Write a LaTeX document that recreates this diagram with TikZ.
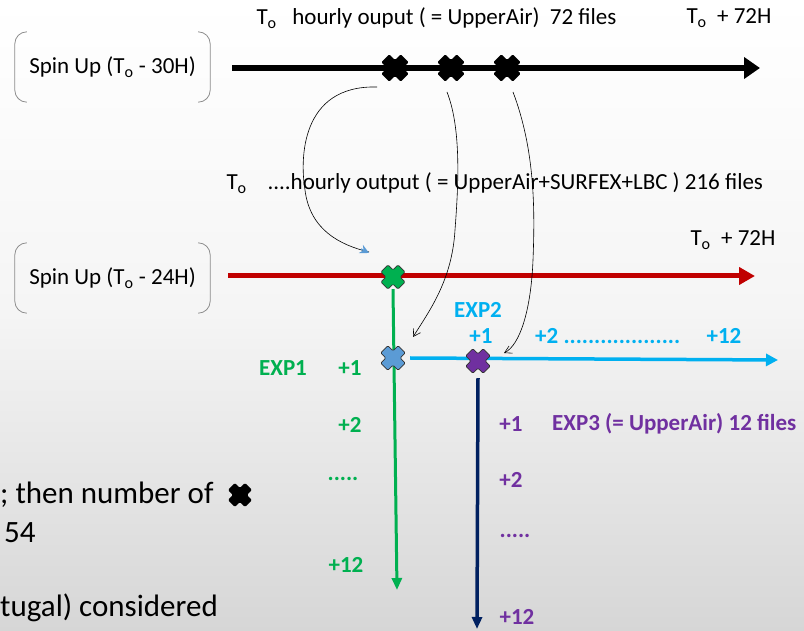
\documentclass[tikz,border=0pt]{standalone}
\usepackage{fontspec}
\setmainfont{Carlito}
\usetikzlibrary{arrows.meta,positioning}

\definecolor{darkred}{HTML}{C00000}
\definecolor{expgreen}{HTML}{00B050}
\definecolor{expblue}{HTML}{00B0F0}
\definecolor{crossblue}{HTML}{5B9BD5}
\definecolor{exppurple}{HTML}{7030A0}
\definecolor{navy}{HTML}{002060}

\begin{document}
\begin{tikzpicture}[x=1pt,y=1pt,node distance=56pt,
                    font=\fontsize{23}{27}\selectfont,
                    xmark/.pic={\path[pic actions,rounded corners=1.2pt]
                      (7.4,0) -- (12.7,5.3) -- (5.3,12.7) -- (0,7.4) -- (-5.3,12.7) -- (-12.7,5.3)
                      -- (-7.4,0) -- (-12.7,-5.3) -- (-5.3,-12.7) -- (0,-7.4) -- (5.3,-12.7) -- (12.7,-5.3) -- cycle;}]
  \tikzstyle{spin}=[minimum width=195pt,minimum height=70pt,inner sep=0pt]
  \tikzstyle{bracket}=[draw=black!45,line width=0.8pt]
  \tikzstyle{xpt}=[inner sep=0pt,minimum size=24pt]
  \tikzstyle{lab}=[font=\bfseries\fontsize{23}{26}\selectfont,inner sep=1pt]
  \tikzstyle{big}=[font=\fontsize{31}{36}\selectfont,inner sep=0pt]
  \tikzstyle{hand}=[draw=black,line width=0.6pt]

  \shade[top color=white,bottom color=black!16,middle color=white!96!black] (0,0) rectangle (804,630);
  \useasboundingbox (0,0) rectangle (804,630);

  \node[spin] (spin1) at (112.5,563) {Spin Up (T\textsubscript{o} - 30H)};
  \node[spin] (spin2) at (112.5,352) {Spin Up (T\textsubscript{o} - 24H)};
  \foreach \s in {spin1,spin2} {
    \draw[bracket] ([xshift=12pt]\s.north west) arc[start angle=90,end angle=180,radius=12pt]
                   -- ([yshift=12pt]\s.south west) arc[start angle=180,end angle=270,radius=12pt];
    \draw[bracket] ([xshift=-12pt]\s.north east) arc[start angle=90,end angle=0,radius=12pt]
                   -- ([yshift=12pt]\s.south east) arc[start angle=0,end angle=-90,radius=12pt];
  }

  \node[anchor=west] (top)   at (253,612) {T\textsubscript{o}\ \ \ hourly ouput ( = UpperAir)\ \ 72 files};
  \node[anchor=west] (topend) at (683,612) {T\textsubscript{o}\ \ + 72H};
  \node[anchor=west] (midT)  at (223,446) {T\textsubscript{o}};
  \node[anchor=west] (mid)   at (264,447) {....hourly output ( = UpperAir+SURFEX+LBC ) 216 files};
  \node[anchor=west] (midend) at (687,390) {T\textsubscript{o}\ \ + 72H};

  \coordinate (b0) at (232,562);
  \coordinate (b1) at (760,562);
  \coordinate (r0) at (228,354);
  \coordinate (r1) at (755,354);
  \draw[line width=6pt,-{Triangle[length=16pt,width=21pt]}] (b0) -- (b1);
  \draw[darkred,line width=5pt,-{Triangle[length=16pt,width=17pt]}] (r0) -- (r1);

  \node[xpt] (c1)                at (395,562) {};
  \node[xpt] (c2) [right of=c1]  {};
  \node[xpt] (c3) [right of=c2]  {};
  \node[xpt] (g0)                at (393,353) {};
  \node[xpt] (u0)                at (393,272) {};
  \node[xpt] (v0)                at (478,269) {};

  \coordinate (g1) at (397,40);
  \coordinate (u1) at (778,270);
  \coordinate (v1) at (477,1);
  \draw[expgreen,line width=3pt,-{Triangle[length=12pt,width=10pt]}] (g0.south) -- (g1);
  \draw[expblue,line width=3.5pt,-{Triangle[length=12pt,width=12pt]}] ([xshift=5pt]u0.east) -- (u1);
  \draw[navy,line width=3.5pt,-{Triangle[length=12pt,width=10pt]}] ([yshift=-5pt]v0.south) -- (v1);

  \foreach \c in {c1,c2,c3}
    \pic[fill=black,scale=1.08] at (\c) {xmark};
  \pic[fill=expgreen,draw=black!80,line width=0.7pt,scale=0.95] at (g0) {xmark};
  \pic[fill=crossblue,draw=black!80,line width=0.7pt,scale=0.97] at (u0) {xmark};
  \pic[fill=exppurple,draw=black!80,line width=0.7pt,scale=0.97] at (v0) {xmark};

  \path[hand] ([xshift=-18pt,yshift=-19pt]c1.center) .. controls (300,545) and (300,470) .. (305,440)
              .. controls (310,400) and (340,385) .. (369,378);
  \draw[crossblue,line width=1.5pt,-{Stealth[length=9pt,width=9pt]}] (361,381) -- (369,377);
  \draw[hand,-{Straight Barb[length=7pt,width=8pt]}] ([xshift=-4pt,yshift=-24pt]c2.center)
              .. controls (462,500) and (458,440) .. (455,400)
              .. controls (452,350) and (430,320) .. (413,293);
  \draw[hand,-{Straight Barb[length=7pt,width=8pt]}] ([xshift=6pt,yshift=-24pt]c3.center)
              .. controls (535,480) and (535,420) .. (533,370)
              .. controls (531,320) and (520,285) .. (504,277);

  \node[lab,expgreen] (e1)   at (283,262) {EXP1};
  \node[lab,expgreen] (e1a)  at (350,262) {+1};
  \node[lab,expgreen] (e1b)  at (350,205) {+2};
  \node[lab,expgreen] (e1c)  at (343,151) {.....};
  \node[lab,expgreen] (e1d)  at (346,65)  {+12};

  \node[lab,expblue] (e2)    at (478,320) {EXP2};
  \node[lab,expblue] (e2a)   at (481,294) {+1};
  \node[lab,expblue,anchor=west] (e2b) at (534,294) {+2 ...................};
  \node[lab,expblue] (e2c)   at (724,294) {+12};

  \node[lab,exppurple] (e3a) at (511,206) {+1};
  \node[lab,exppurple,anchor=west] (e3) at (551,206) {EXP3 (= UpperAir) 12 files};
  \node[lab,exppurple] (e3b) at (511,150) {+2};
  \node[lab,exppurple] (e3c) at (515,94)  {.....};
  \node[lab,exppurple] (e3d) at (517,13)  {+12};

  \node[big,anchor=west] (note1) at (0,135) {; then number of};
  \node[xpt] (note1x) [right=14pt of note1] {};
  \pic[fill=black,scale=0.95] at (note1x) {xmark};
  \node[big,anchor=west] (note2) at (4,97)  {54};
  \node[big,anchor=west] (note3) at (0,22)  {tugal) considered};
\end{tikzpicture}
\end{document}
